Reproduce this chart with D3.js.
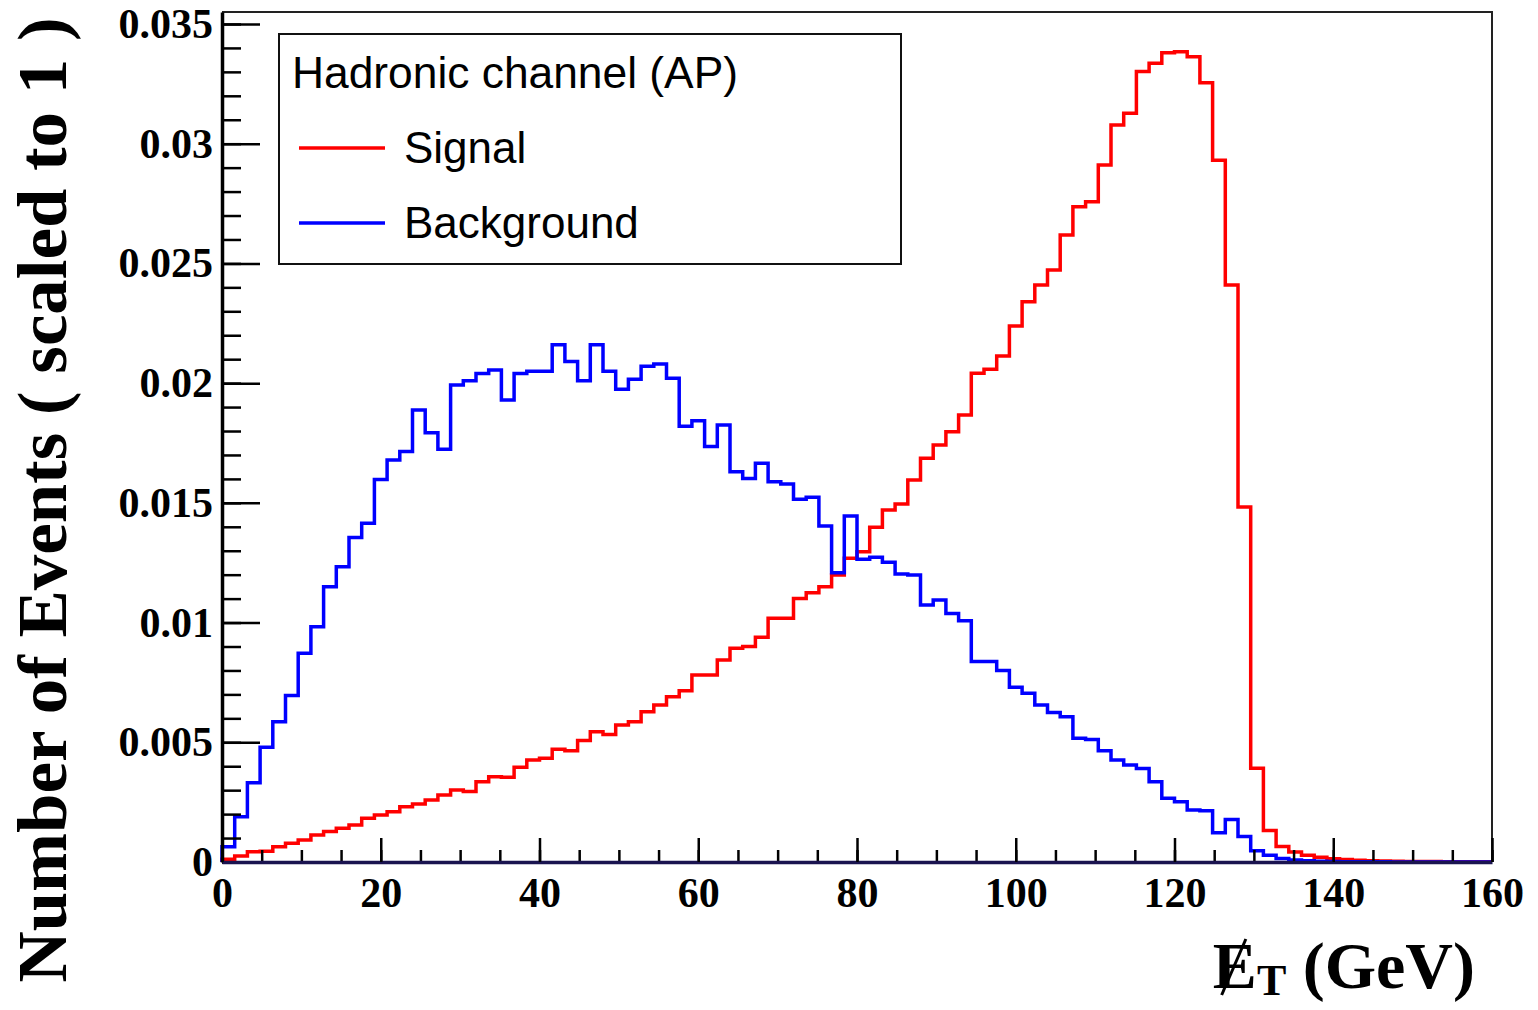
<!DOCTYPE html>
<html>
<head>
<meta charset="utf-8">
<script src="https://cdn.jsdelivr.net/npm/d3@7"></script>
<style>
  body { margin: 0; background: #fff; }
  svg { display: block; }
</style>
</head>
<body>
<svg id="chart" width="1538" height="1010"></svg>
<script>
// ── data: 100 bins of 1.6 GeV over 0–160 ─────────────────
const binWidth = 1.6;
const signal = [
  0.00011, 0.00025, 0.00043, 0.00045, 0.00064, 0.00078, 0.00092, 0.00113, 0.00127, 0.00141,
  0.00155, 0.00183, 0.00196, 0.00210, 0.00231, 0.00242, 0.00259, 0.00280, 0.00301, 0.00294,
  0.00335, 0.00356, 0.00354, 0.00396, 0.00426, 0.00433, 0.00471, 0.00465, 0.00507, 0.00544,
  0.00533, 0.00572, 0.00586, 0.00628, 0.00656, 0.00690, 0.00715, 0.00781, 0.00781, 0.00844,
  0.00893, 0.00900, 0.00939, 0.01018, 0.01018, 0.01101, 0.01125, 0.01150, 0.01199, 0.01269,
  0.01296, 0.01398, 0.01470, 0.01495, 0.01595, 0.01686, 0.01742, 0.01797, 0.01867, 0.02041,
  0.02058, 0.02113, 0.02239, 0.02340, 0.02410, 0.02472, 0.02619, 0.02737, 0.02758, 0.02911,
  0.03078, 0.03127, 0.03301, 0.03336, 0.03380, 0.03384, 0.03363, 0.03255, 0.02931, 0.02410,
  0.01483, 0.00392, 0.00132, 0.00065, 0.00042, 0.00028, 0.00020, 0.00014, 0.00010, 0.00007,
  0.00005, 0.00004, 0.00003, 0.00002, 0.00002, 0.00002, 0.00001, 0.00001, 0.00001, 0.00001
];
const background = [
  0.00064, 0.00189, 0.00331, 0.00479, 0.00586, 0.00695, 0.00872, 0.00983, 0.01150, 0.01233,
  0.01355, 0.01415, 0.01598, 0.01679, 0.01714, 0.01888, 0.01793, 0.01724, 0.01992, 0.02010,
  0.02040, 0.02055, 0.01930, 0.02040, 0.02050, 0.02050, 0.02160, 0.02090, 0.02010, 0.02160,
  0.02050, 0.01974, 0.02016, 0.02070, 0.02080, 0.02020, 0.01820, 0.01843, 0.01735, 0.01825,
  0.01630, 0.01602, 0.01665, 0.01588, 0.01579, 0.01515, 0.01523, 0.01403, 0.01208, 0.01445,
  0.01264, 0.01273, 0.01252, 0.01203, 0.01199, 0.01073, 0.01094, 0.01038, 0.01008, 0.00837,
  0.00837, 0.00800, 0.00730, 0.00705, 0.00656, 0.00624, 0.00607, 0.00517, 0.00512, 0.00465,
  0.00426, 0.00405, 0.00391, 0.00335, 0.00266, 0.00252, 0.00217, 0.00214, 0.00122, 0.00178,
  0.00106, 0.00047, 0.00028, 0.00015, 0.00008, 0.00005, 0.00003, 0.00002, 0.00001, 0.00001,
  0.00001, 0.00001, 0.00000, 0.00000, 0.00000, 0.00000, 0.00000, 0.00000, 0.00000, 0.00000
];

const xTicks      = [0, 20, 40, 60, 80, 100, 120, 140, 160];
const xMinorTicks = d3.range(0, 161, 5);
const yTicks      = [0, 0.005, 0.01, 0.015, 0.02, 0.025, 0.03, 0.035];
const yTickLabels = ['0', '0.005', '0.01', '0.015', '0.02', '0.025', '0.03', '0.035'];
const yMinorTicks = d3.range(0, 36).map(i => i / 1000);

const legendTitle = 'Hadronic channel (AP)';
const seriesNames = ['Signal', 'Background'];
const seriesColors = ['#ff0000', '#0000ff'];

// ── layout ───────────────────────────────────────────────
const frame = { left: 222, right: 1492, top: 12, bottom: 862 };
const svg = d3.select('#chart');

const x = d3.scaleLinear().domain([0, 160]).range([frame.left, frame.right]);
const y = d3.scaleLinear().domain([0, 0.0355]).range([frame.bottom, frame.top]);

// ── histograms ───────────────────────────────────────────
const step = d3.line().x(d => x(d[0])).y(d => y(d[1])).curve(d3.curveStepAfter);

function histPoints(vals) {
  const pts = [[0, 0]];
  vals.forEach((v, i) => pts.push([i * binWidth, v]));
  pts.push([vals.length * binWidth, vals[vals.length - 1]]);
  return pts;
}

[signal, background].forEach((vals, i) => {
  svg.append('path')
    .attr('d', step(histPoints(vals)))
    .attr('fill', 'none')
    .attr('stroke', seriesColors[i])
    .attr('stroke-width', 3.5)
    .attr('stroke-linejoin', 'miter');
});

// ── frame (top / right) ──────────────────────────────────
svg.append('path')
  .attr('d', `M${frame.left},${frame.top}H${frame.right}V${frame.bottom}`)
  .attr('fill', 'none')
  .attr('stroke', '#222')
  .attr('stroke-width', 2);

// ── axes (ticks inward, ROOT style) ─────────────────────
const tickFont = '"Liberation Serif", "Times New Roman", serif';

// y minor
svg.append('g')
  .attr('transform', `translate(${frame.left},0)`)
  .call(d3.axisLeft(y).tickValues(yMinorTicks).tickSize(-19).tickSizeOuter(0).tickFormat(''))
  .call(g => g.select('.domain').remove())
  .call(g => g.selectAll('line').attr('stroke-width', 2.5));

// y major
svg.append('g')
  .attr('transform', `translate(${frame.left},0)`)
  .call(d3.axisLeft(y).tickValues(yTicks).tickSize(-38).tickSizeOuter(0).tickPadding(9)
    .tickFormat((d, i) => yTickLabels[i]))
  .call(g => g.select('.domain').attr('stroke-width', 3.5))
  .call(g => g.selectAll('line').attr('stroke-width', 2.5))
  .call(g => g.selectAll('text')
    .attr('font-family', tickFont).attr('font-weight', 'bold')
    .attr('font-size', 42).attr('fill', '#000'));

// x minor
svg.append('g')
  .attr('transform', `translate(0,${frame.bottom})`)
  .call(d3.axisBottom(x).tickValues(xMinorTicks).tickSize(-12).tickSizeOuter(0).tickFormat(''))
  .call(g => g.select('.domain').remove())
  .call(g => g.selectAll('line').attr('stroke-width', 2.5));

// x major
svg.append('g')
  .attr('transform', `translate(0,${frame.bottom})`)
  .call(d3.axisBottom(x).tickValues(xTicks).tickSize(-24).tickSizeOuter(0).tickPadding(15)
    .tickFormat(d3.format('d')))
  .call(g => g.select('.domain').attr('stroke', '#1a1450').attr('stroke-width', 3.5))
  .call(g => g.selectAll('line').attr('stroke-width', 2.5))
  .call(g => g.selectAll('text')
    .attr('font-family', tickFont).attr('font-weight', 'bold')
    .attr('font-size', 42).attr('fill', '#000'));

// ── axis titles ──────────────────────────────────────────
svg.append('text')
  .attr('transform', 'translate(66,500) rotate(-90)')
  .attr('text-anchor', 'middle')
  .attr('font-family', tickFont)
  .attr('font-weight', 'bold')
  .attr('font-size', 70)
  .attr('textLength', 965)
  .attr('lengthAdjust', 'spacingAndGlyphs')
  .text('Number of Events ( scaled to 1 )');

const xTitle = svg.append('text')
  .attr('x', 1475)
  .attr('y', 988)
  .attr('text-anchor', 'end')
  .attr('font-family', tickFont)
  .attr('font-weight', 'bold')
  .attr('font-size', 66);
const eSpan = xTitle.append('tspan').text('E');
xTitle.append('tspan').attr('font-size', 44).attr('dy', 7).text('T');
xTitle.append('tspan').attr('dy', -7).text(' (GeV)');

// slash through the E (missing transverse energy)
const eBox = eSpan.node().getExtentOfChar(0);
svg.append('line')
  .attr('x1', eBox.x + eBox.width * 0.2).attr('y1', 995)
  .attr('x2', eBox.x + eBox.width * 0.75).attr('y2', 939)
  .attr('stroke', '#000')
  .attr('stroke-width', 3);

// ── legend ───────────────────────────────────────────────
const legend = svg.append('g');
legend.append('rect')
  .attr('x', 279).attr('y', 34)
  .attr('width', 622).attr('height', 230)
  .attr('fill', '#fff')
  .attr('stroke', '#111')
  .attr('stroke-width', 2);

const legendFont = '"Liberation Sans", Arial, Helvetica, sans-serif';
legend.append('text')
  .attr('x', 292).attr('y', 88)
  .attr('font-family', legendFont)
  .attr('font-size', 44)
  .attr('textLength', 446)
  .attr('lengthAdjust', 'spacingAndGlyphs')
  .text(legendTitle);

seriesNames.forEach((name, i) => {
  const ly = 148 + i * 75;
  legend.append('line')
    .attr('x1', 299).attr('x2', 385)
    .attr('y1', ly).attr('y2', ly)
    .attr('stroke', seriesColors[i])
    .attr('stroke-width', 3.5);
  legend.append('text')
    .attr('x', 404).attr('y', ly + 15)
    .attr('font-family', legendFont)
    .attr('font-size', 44)
    .text(name);
});
</script>
</body>
</html>
